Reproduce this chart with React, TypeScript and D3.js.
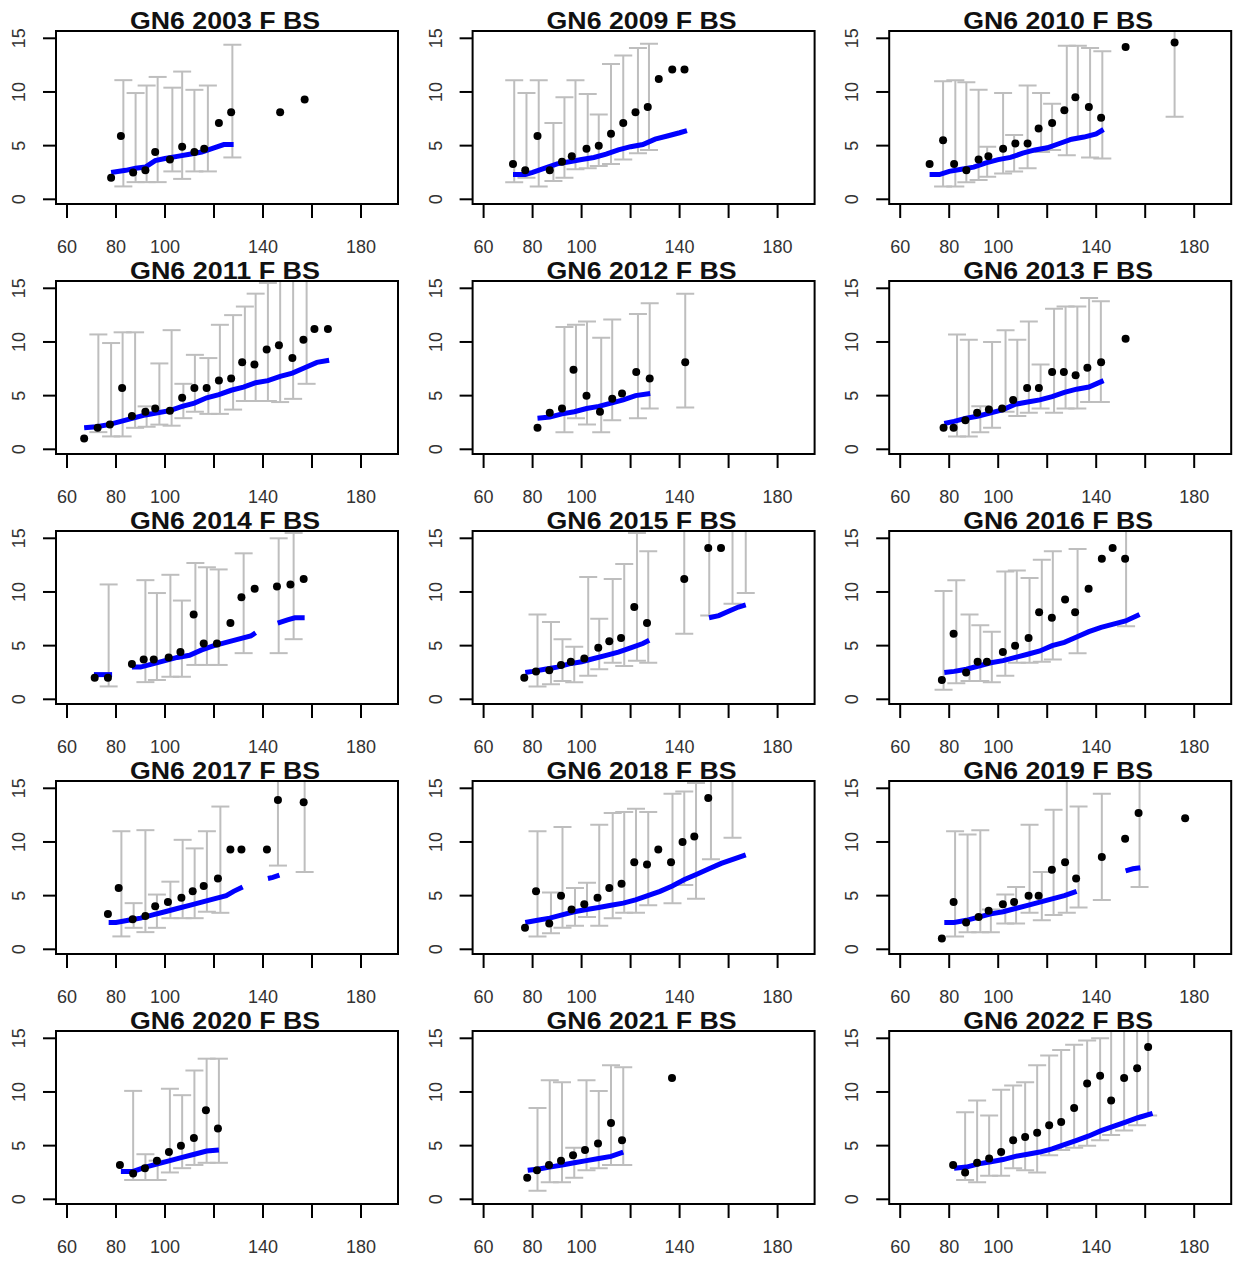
import React from "react";
import * as d3 from "d3";

type P = [number, number];
type B = [number, number, number];

const titles = ["GN6 2003 F BS","GN6 2009 F BS","GN6 2010 F BS","GN6 2011 F BS","GN6 2012 F BS","GN6 2013 F BS","GN6 2014 F BS","GN6 2015 F BS","GN6 2016 F BS","GN6 2017 F BS","GN6 2018 F BS","GN6 2019 F BS","GN6 2020 F BS","GN6 2021 F BS","GN6 2022 F BS"];
const xTickValues = [60, 80, 100, 120, 140, 160, 180];
const xTickLabels = ["60", "80", "100", "", "140", "", "180"];
const yTickValues = [0, 5, 10, 15];

const pts2003: P[] = [[78,2.0],[82,5.9],[87,2.5],[92,2.7],[96,4.4],[102,3.7],[107,4.9],[112,4.4],[116,4.7],[122,7.1],[127,8.1],[147,8.1],[157,9.3]];
const bars2003: B[] = [[83,1.2,11.1],[88,1.6,9.9],[92.5,1.6,10.6],[97,1.6,11.4],[103,2.6,10.4],[107,1.9,11.9],[112,2.6,10.2],[117.5,2.6,10.6],[127.5,3.9,14.4]];
const blue2003: P[][] = [[[78,2.5],[84,2.7],[88,2.9],[92,3.0],[96,3.6],[100,3.8],[105,4.0],[110,4.2],[115,4.4],[120,4.8],[124,5.1],[128,5.1]]];

const pts2009: P[] = [[72,3.3],[77,2.7],[82,5.9],[87,2.7],[92,3.5],[96,4.0],[102,4.7],[107,5.0],[112,6.1],[117,7.1],[122,8.1],[127,8.6],[131.5,11.2],[137,12.1],[142,12.1]];
const bars2009: B[] = [[72.5,1.6,11.1],[77.5,2.0,9.9],[82.5,1.2,11.1],[88.5,1.7,7.1],[93,2.0,9.5],[97.5,2.8,11.1],[102.5,2.9,9.8],[107,3.1,7.9],[112,3.3,12.6],[117,3.7,13.4],[123,4.3,14.1],[127.5,4.6,14.5]];
const blue2009: P[][] = [[[72,2.3],[77,2.3],[80,2.5],[85,2.9],[90,3.3],[95,3.5],[100,3.7],[105,3.9],[110,4.2],[115,4.6],[120,4.9],[125,5.1],[130,5.6],[135,5.9],[140,6.2],[143,6.4]]];

const pts2010: P[] = [[72,3.3],[77.5,5.5],[82,3.3],[87,2.7],[92,3.7],[96,4.0],[102,4.7],[107,5.2],[112,5.2],[116.5,6.6],[122,7.1],[127,8.3],[131.5,9.5],[137,8.6],[142,7.6],[152,14.2],[172,14.6]];
const bars2010: B[] = [[77.5,1.2,11.0],[82.5,1.2,11.1],[87,1.6,10.9],[92,1.8,10.2],[95.5,2.1,4.9],[102,2.4,9.9],[106.5,2.6,6.0],[112,2.9,10.6],[117.5,4.4,9.9],[122,4.6,8.9],[128,4.1,14.3],[132.5,5.7,14.3],[137.5,3.9,14.1],[142.5,3.8,13.8],[172,7.7,16.5]];
const blue2010: P[][] = [[[72,2.3],[76,2.3],[80,2.6],[85,2.8],[90,3.0],[95,3.4],[100,3.7],[105,3.9],[110,4.3],[115,4.6],[120,4.8],[125,5.2],[130,5.6],[135,5.8],[140,6.1],[143,6.5]]];

const pts2011: P[] = [[67,1.0],[72.5,2.0],[77.5,2.3],[82.5,5.7],[86.5,3.1],[92,3.5],[96,3.8],[102,3.6],[107,4.8],[112,5.7],[117,5.7],[122,6.4],[127,6.6],[131.5,8.1],[136.5,7.9],[141.5,9.3],[146.5,9.7],[152,8.5],[156.5,10.2],[161,11.2],[166.5,11.2]];
const bars2011: B[] = [[72.8,1.6,10.7],[78,1.2,9.9],[82.7,1.2,10.9],[87.8,2.0,10.9],[92.5,2.1,4.0],[97.7,2.3,8.0],[102.7,2.2,11.1],[107.5,2.9,6.1],[112.2,3.5,8.8],[117.7,3.3,8.5],[122.4,3.3,11.6],[127.8,3.7,12.5],[132.6,4.5,13.3],[137,4.5,14.5],[142,4.5,15.5],[147,4.4,16.5],[152.3,4.7,16.5],[157.8,6.1,16.5]];
const blue2011: P[][] = [[[67,2.0],[72,2.1],[77,2.3],[82,2.6],[87,2.9],[92,3.2],[97,3.4],[102,3.6],[107,4.0],[112,4.3],[117,4.8],[122,5.1],[127,5.5],[132,5.8],[137,6.2],[142,6.4],[147,6.8],[152,7.1],[157,7.6],[162,8.1],[167,8.3]]];

const pts2012: P[] = [[82,2.0],[87,3.4],[92,3.8],[96.7,7.4],[102,5.0],[107.5,3.5],[112.5,4.7],[116.5,5.2],[122.3,7.2],[127.8,6.6],[142.3,8.1]];
const bars2012: B[] = [[93,1.6,11.4],[97.7,2.9,11.6],[102.2,2.3,11.9],[108,1.6,10.4],[112.5,2.7,12.1],[123,2.9,12.6],[127.8,3.8,13.6],[142.3,3.9,14.5]];
const blue2012: P[][] = [[[82,2.9],[87,3.0],[92,3.3],[97,3.5],[102,3.8],[107,4.0],[112,4.3],[117,4.6],[122,5.0],[128,5.2]]];

const pts2013: P[] = [[77.7,2.0],[81.8,2.0],[86.6,2.7],[91.4,3.4],[96.2,3.7],[101.6,3.8],[106.1,4.6],[111.8,5.7],[116.6,5.7],[122,7.2],[126.8,7.2],[131.6,6.9],[136.4,7.6],[142,8.1],[152,10.3]];
const bars2013: B[] = [[83.2,1.2,10.7],[88,1.2,10.2],[92.7,1.6,4.0],[97.5,2.0,10.0],[103,3.5,11.1],[107.8,3.1,10.2],[112.5,3.4,11.9],[117.3,3.8,7.9],[122.8,3.4,13.1],[127.5,3.8,13.3],[132.3,3.8,13.3],[137.1,4.4,14.1],[141.9,4.4,13.8]];
const blue2013: P[][] = [[[78,2.4],[82,2.6],[87,2.9],[92,3.1],[97,3.4],[102,3.7],[107,4.2],[112,4.4],[117,4.6],[122,4.9],[127,5.3],[132,5.6],[137,5.8],[143,6.4]]];

const pts2014: P[] = [[71.3,2.0],[76.7,2.0],[86.5,3.3],[91.3,3.7],[95.4,3.7],[101.5,3.9],[106.3,4.4],[111.7,7.9],[115.8,5.2],[121.2,5.2],[126.7,7.1],[131.2,9.5],[136.6,10.3],[145.7,10.5],[151.2,10.7],[156.6,11.2]];
const bars2014: B[] = [[77,1.2,10.7],[92,1.6,11.1],[96.7,1.8,9.9],[102.2,2.1,11.6],[106.9,2.1,9.2],[112.4,3.2,12.7],[117.1,3.2,12.3],[121.9,3.2,12.1],[132.1,4.3,13.6],[146.4,4.3,15.0],[152.5,5.6,15.5]];
const blue2014: P[][] = [[[71,2.3],[78.4,2.3]],[[86.5,3.0],[90,3.0],[95,3.3],[100,3.6],[105,3.9],[110,4.1],[115,4.6],[120,5.0],[125,5.3],[130,5.6],[135,5.9],[137,6.2]],[[146,7.1],[150,7.4],[153,7.6],[157,7.6]]];

const pts2015: P[] = [[76.6,2.0],[81.4,2.6],[86.8,2.7],[91.6,3.2],[95.6,3.5],[101.1,3.8],[106.8,4.8],[111.3,5.4],[116.1,5.7],[121.5,8.6],[126.7,7.1],[141.9,11.2],[151.7,14.1],[156.9,14.1]];
const bars2015: B[] = [[82,1.2,7.9],[87.5,1.4,7.2],[92.2,1.7,5.6],[97,1.6,4.9],[102.7,2.2,11.4],[107.2,2.8,7.5],[112.7,3.4,11.2],[117.4,3.1,12.6],[122.6,3.6,15.5],[127.2,3.4,13.8],[141.9,6.1,16.5],[152.1,7.8,16.5],[161.6,8.9,16.5],[167,9.9,16.5]];
const blue2015: P[][] = [[[77,2.5],[80,2.6],[85,2.8],[90,3.0],[95,3.3],[100,3.5],[105,3.8],[110,4.1],[115,4.4],[120,4.8],[125,5.2],[127.6,5.5]],[[152,7.6],[156,7.8],[160,8.2],[164,8.6],[167,8.8]]];

const pts2016: P[] = [[77,1.8],[81.8,6.1],[86.9,2.5],[91.6,3.5],[95.4,3.5],[101.9,4.4],[106.9,5.0],[112.4,5.7],[116.7,8.1],[121.9,7.6],[127.3,9.3],[131.4,8.1],[136.9,10.3],[142.3,13.1],[146.7,14.1],[151.8,13.1]];
const bars2016: B[] = [[77.7,0.9,10.1],[82.9,1.5,11.1],[88.3,1.7,7.9],[92.7,1.7,6.9],[97.4,1.6,6.3],[102.9,2.2,11.9],[107.6,3.4,12.0],[112.8,3.4,11.3],[117.8,3.5,13.0],[122.3,3.7,13.8],[132.4,4.3,14.0],[152.2,6.8,16.5]];
const blue2016: P[][] = [[[78,2.5],[82,2.6],[87,2.8],[92,3.1],[97,3.4],[102,3.6],[107,3.9],[112,4.2],[117,4.5],[122,5.0],[127,5.3],[132,5.8],[137,6.3],[142,6.7],[147,7.0],[152,7.3],[157.7,7.9]]];

const pts2017: P[] = [[76.7,3.3],[81.1,5.7],[86.8,2.8],[92,3.1],[96,4.0],[101.2,4.4],[106.7,4.8],[111.3,5.4],[115.8,5.9],[121.6,6.6],[126.7,9.3],[131.2,9.3],[141.6,9.3],[146.1,13.9],[156.6,13.7]];
const bars2017: B[] = [[82.2,1.2,11.0],[87.2,2.0,4.3],[92,1.6,11.1],[96.7,2.0,5.1],[102.2,2.9,6.3],[107.2,2.9,10.2],[112.1,2.9,9.4],[117.1,3.5,11.0],[122.6,3.4,13.3],[146.1,7.8,16.5],[157,7.2,16.5]];
const blue2017: P[][] = [[[77,2.5],[80,2.5],[85,2.7],[90,2.9],[95,3.2],[100,3.5],[105,3.8],[110,4.1],[115,4.4],[120,4.7],[125,5.0],[128,5.4],[131.7,5.8]],[[142,6.6],[144,6.7],[146.7,6.9]]];

const pts2018: P[] = [[76.9,2.0],[81.4,5.4],[86.8,2.4],[91.6,5.0],[95.9,3.7],[101.1,4.2],[106.5,4.8],[111.3,5.7],[116.3,6.1],[121.5,8.1],[126.7,7.9],[131.3,9.3],[136.5,8.1],[141.2,10.0],[146,10.5],[151.7,14.1]];
const bars2018: B[] = [[82,1.2,11.0],[87.5,1.5,5.3],[92.2,2.0,11.4],[97.3,2.2,5.7],[102.2,3.0,6.2],[107.2,2.2,11.6],[112.7,2.9,12.7],[117.4,3.4,12.8],[122.2,3.4,13.1],[127.2,4.1,12.8],[137.1,4.3,14.5],[141.9,6.0,14.7],[146.7,4.7,15.5],[152.8,8.4,16.5],[161.6,10.4,16.5]];
const blue2018: P[][] = [[[77,2.5],[82,2.7],[87,2.9],[92,3.2],[97,3.5],[102,3.7],[107,3.9],[112,4.1],[117,4.3],[122,4.6],[127,5.0],[132,5.4],[137,5.9],[142,6.5],[147,7.0],[152,7.5],[157,8.0],[162,8.4],[167,8.8]]];

const pts2019: P[] = [[77,1.0],[81.8,4.4],[86.9,2.5],[92,3.0],[96.1,3.6],[101.9,4.2],[106.5,4.4],[112.4,5.0],[116.5,5.0],[121.9,7.4],[127.3,8.1],[131.8,6.6],[142.3,8.6],[151.8,10.3],[157.3,12.7],[176.3,12.2]];
const bars2019: B[] = [[82.4,1.2,11.0],[87.5,1.6,10.7],[92.7,1.6,11.1],[97,1.6,3.7],[102.9,2.4,5.1],[107.3,2.4,5.8],[112.8,3.4,11.6],[117.8,2.7,7.2],[122.6,3.2,13.0],[128,3.4,16.5],[132.8,3.9,13.3],[142.3,4.6,14.5],[157.7,5.8,16.5]];
const blue2019: P[][] = [[[78,2.5],[82,2.5],[87,2.7],[92,3.0],[97,3.3],[102,3.5],[107,3.8],[112,4.1],[117,4.4],[122,4.7],[127,5.0],[132,5.4]],[[152,7.3],[155,7.5],[158,7.6]]];

const pts2020: P[] = [[81.6,3.2],[87,2.4],[91.8,2.9],[96.7,3.6],[101.6,4.4],[106.5,5.0],[111.8,5.7],[116.7,8.3],[121.6,6.6]];
const bars2020: B[] = [[87,1.8,10.1],[92,1.8,4.2],[97,1.8,3.6],[102,2.5,10.3],[107,2.9,9.7],[112,3.2,12.0],[117,3.4,13.1],[122,3.4,13.1]];
const blue2020: P[][] = [[[82,2.6],[87,2.6],[92,3.0],[97,3.3],[102,3.6],[107,3.9],[112,4.2],[117,4.5],[122,4.6]]];

const pts2021: P[] = [[77.8,2.0],[81.8,2.7],[86.7,3.2],[91.6,3.6],[96.5,4.1],[101.4,4.6],[106.7,5.2],[112,7.1],[116.5,5.5],[136.9,11.3]];
const bars2021: B[] = [[82,0.8,8.5],[87,1.6,11.1],[92,1.6,10.9],[97,2.0,4.8],[102,2.7,11.1],[107,2.9,10.1],[112,3.2,12.5],[117,3.2,12.3]];
const blue2021: P[][] = [[[78,2.7],[82,2.8],[87,3.0],[92,3.2],[97,3.4],[102,3.6],[107,3.8],[112,4.0],[117,4.4]]];

const pts2022: P[] = [[81.6,3.2],[86.5,2.5],[91.4,3.4],[96.3,3.8],[101.2,4.4],[106.1,5.5],[111,5.8],[115.9,6.2],[120.8,6.9],[125.7,7.2],[131,8.5],[136.3,10.8],[141.6,11.5],[146.1,9.2],[151.4,11.3],[156.7,12.2],[161.2,14.2]];
const bars2022: B[] = [[86.5,1.8,8.1],[91.4,1.6,9.2],[96.3,2.2,7.8],[101.2,2.2,10.2],[106.1,2.9,10.6],[111,2.7,10.9],[115.9,2.5,12.5],[120.8,4.1,13.4],[125.7,4.6,13.9],[131,4.8,14.4],[136.3,5.0,14.8],[141.6,5.5,15.0],[146.1,6.0,16.5],[151.4,6.4,16.5],[156.7,6.9,16.5],[161.2,7.8,16.5]];
const blue2022: P[][] = [[[82,2.9],[87,3.0],[92,3.3],[97,3.5],[102,3.7],[107,4.0],[112,4.2],[117,4.4],[122,4.7],[127,5.1],[132,5.5],[137,5.9],[142,6.4],[147,6.8],[152,7.2],[157,7.6],[163,8.0]]];

const allPts = [pts2003, pts2009, pts2010, pts2011, pts2012, pts2013, pts2014, pts2015, pts2016, pts2017, pts2018, pts2019, pts2020, pts2021, pts2022];
const allBars = [bars2003, bars2009, bars2010, bars2011, bars2012, bars2013, bars2014, bars2015, bars2016, bars2017, bars2018, bars2019, bars2020, bars2021, bars2022];
const allBlue = [blue2003, blue2009, blue2010, blue2011, blue2012, blue2013, blue2014, blue2015, blue2016, blue2017, blue2018, blue2019, blue2020, blue2021, blue2022];

const FONT = "'Liberation Sans', Arial, Helvetica, sans-serif";
const BOX_W = 342;
const BOX_H = 173;

function Panel({ idx }: { idx: number }) {
  const col = idx % 3;
  const row = Math.floor(idx / 3);
  const left = 56 + 416.6 * col;
  const top = 31 + 250 * row;
  const right = left + BOX_W;
  const bottom = top + BOX_H;
  const x = d3.scaleLinear().domain([60, 180]).range([left + 11, left + 305]);
  const y = d3.scaleLinear().domain([0, 15]).range([top + 168.3, top + 7.3]);
  const line = d3.line<P>().x((d) => x(d[0])).y((d) => y(d[1]));
  const clipId = `clip${idx}`;
  const cap = 9;
  return (
    <g>
      <defs>
        <clipPath id={clipId}>
          <rect x={left} y={top} width={BOX_W} height={BOX_H} />
        </clipPath>
      </defs>
      <g clipPath={`url(#${clipId})`}>
        {allBars[idx].map((b, i) => (
          <g key={i} stroke="#bebebe" strokeWidth={2} fill="none">
            <line x1={x(b[0])} x2={x(b[0])} y1={y(b[1])} y2={y(b[2])} />
            <line x1={x(b[0]) - cap} x2={x(b[0]) + cap} y1={y(b[1])} y2={y(b[1])} />
            <line x1={x(b[0]) - cap} x2={x(b[0]) + cap} y1={y(b[2])} y2={y(b[2])} />
          </g>
        ))}
        {allBlue[idx].map((seg, i) => (
          <path key={i} d={line(seg) || ""} stroke="#0000ff" strokeWidth={5} fill="none" />
        ))}
        {allPts[idx].map((p, i) => (
          <circle key={i} cx={x(p[0])} cy={y(p[1])} r={4} fill="#000" />
        ))}
      </g>
      <rect x={left} y={top} width={BOX_W} height={BOX_H} fill="none" stroke="#000" strokeWidth={2} />
      {xTickValues.map((v, i) => (
        <g key={v}>
          <line x1={x(v)} x2={x(v)} y1={bottom} y2={bottom + 14} stroke="#000" strokeWidth={2} />
          {xTickLabels[i] && (
            <text x={x(v)} y={bottom + 49} textAnchor="middle" fontSize={18} fill="#333" fontFamily={FONT}>
              {xTickLabels[i]}
            </text>
          )}
        </g>
      ))}
      {yTickValues.map((v) => (
        <g key={v}>
          <line x1={left - 13} x2={left} y1={y(v)} y2={y(v)} stroke="#000" strokeWidth={2} />
          <text
            x={left - 31}
            y={y(v)}
            textAnchor="middle"
            fontSize={18}
            fill="#333"
            fontFamily={FONT}
            transform={`rotate(-90, ${left - 31}, ${y(v)})`}
          >
            {v}
          </text>
        </g>
      ))}
      <text
        x={(left + right) / 2 - 2}
        y={top - 2}
        textAnchor="middle"
        fontSize={24}
        fontWeight="bold"
        fill="#111"
        fontFamily={FONT}
        textLength={190}
        lengthAdjust="spacingAndGlyphs"
      >
        {titles[idx]}
      </text>
    </g>
  );
}

export default function App() {
  return (
    <svg
      width={1233}
      height={1262}
      style={{ position: "absolute", left: 0, top: 0, background: "#fff" }}
    >
      <rect x={0} y={0} width={1233} height={1262} fill="#fff" />
      {titles.map((_, i) => (
        <Panel key={i} idx={i} />
      ))}
    </svg>
  );
}
